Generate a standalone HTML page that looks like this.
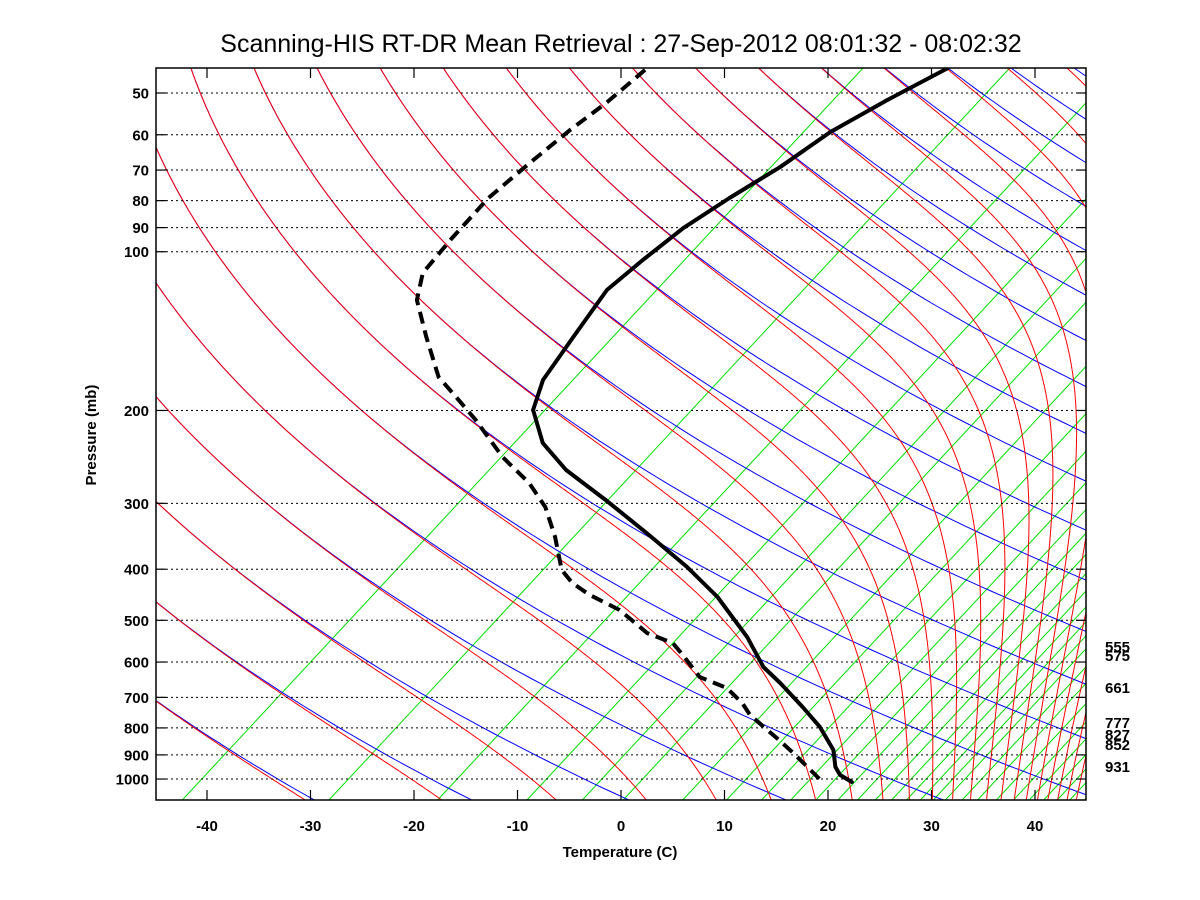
<!DOCTYPE html>
<html><head><meta charset="utf-8"><title>Skew-T</title>
<style>
html,body{margin:0;padding:0;background:#fff;}
svg{display:block;font-family:"Liberation Sans",Arial,sans-serif;}
.tk{font-size:15px;font-weight:bold;fill:#000;}
</style></head>
<body>
<svg id="chart" width="1200" height="900" viewBox="0 0 1200 900" xmlns="http://www.w3.org/2000/svg">
<defs><clipPath id="clip"><rect x="156" y="68" width="930" height="732"/></clipPath></defs>
<rect x="0" y="0" width="1200" height="900" fill="#fff"/>
<text x="621" y="52" text-anchor="middle" font-size="25">Scanning-HIS RT-DR Mean Retrieval : 27-Sep-2012 08:01:32 - 08:02:32</text>
<g id="guides" clip-path="url(#clip)"></g>
<g id="grid"></g>
<g id="profiles" clip-path="url(#clip)"></g>
<rect x="156" y="68" width="930" height="732" fill="none" stroke="#000" stroke-width="1.5"/>
<g id="axes"></g>
<text x="620" y="857" text-anchor="middle" class="tk">Temperature (C)</text>
<text transform="translate(96,435) rotate(-90)" text-anchor="middle" class="tk">Pressure (mb)</text>
<g id="rightlabels">
<text x="1105" y="652" class="tk">555</text>
<text x="1105" y="661" class="tk">575</text>
<text x="1105" y="693" class="tk">661</text>
<text x="1105" y="728" class="tk">777</text>
<text x="1105" y="740" class="tk">827</text>
<text x="1105" y="750" class="tk">852</text>
<text x="1105" y="772" class="tk">931</text>
</g>
</svg>
<script>
// ---- data ----
const pressureTicks = [50,60,70,80,90,100,200,300,400,500,600,700,800,900,1000];
const tempTicks = [-40,-30,-20,-10,0,10,20,30,40];
const tempP = [44.9,51.5,59.3,69.0,79.1,90.2,103.7,118.2,145.1,175.1,199.6,230.6,259.4,295.8,341.5,396.1,451.6,538.0,613,657.5,730,797,881,949,982,1013];
const tempT = [-64.6,-66.1,-67.3,-67.4,-68.1,-68.5,-68.1,-67.5,-64.4,-61.5,-58.4,-53.0,-47.1,-39.2,-30.8,-22.3,-15.3,-7.0,-1.4,2.4,7.8,12.2,16.6,19.1,20.6,22.7];
const dewP = [45.2,52.0,58.8,68.5,79.1,94.2,109.7,123.5,145.1,172.8,188.6,208.5,245.1,274.6,304.9,347.5,401.4,425,447.7,478,528.7,552,581.8,640.6,672,717,756,836,892,1004];
const dewT = [-93.6,-92.9,-92.7,-92.1,-91.4,-89.5,-87.6,-84.5,-78.6,-72.0,-67.6,-62.6,-55.0,-48.9,-44.1,-39.1,-34.0,-31.2,-27.9,-23.0,-17.2,-13.4,-10.8,-6.2,-2.1,1.4,3.8,9.5,13.1,19.4];
const mixingRatios = [0.1,0.4,1,2,3,4,6,8,10,12,14,16,18,20,22,24,26,28,30,33,36,40,44,48,52,56,60,65,70];

// ---- axes ----
const SKEW = 1.4;
function yP(p){ return 93 + 527.3*Math.log10(p/50); }
function xT(T,p){ return 621 + 10.35*T + SKEW*(779 - yP(p)); }
const NS = 'http://www.w3.org/2000/svg';
function mk(tag, attrs, parent){
  const e = document.createElementNS(NS, tag);
  for (const k in attrs) e.setAttribute(k, attrs[k]);
  parent.appendChild(e); return e;
}
function ptsToD(pts){ return pts.map((q,i)=>(i?'L':'M')+q[0].toFixed(1)+' '+q[1].toFixed(1)).join(''); }

const guides = document.getElementById('guides');
const PTOP = 40, PBOT = 1120;

// mixing ratio lines (green) - straight lines anchored at bottom
mixingRatios.forEach(w=>{
  const p=1096;
  const e=w*p/(622+w);
  const L=Math.log(e/6.112);
  const Td=243.5*L/(17.67-L);
  const xb=xT(Td,p)+12;
  const el = mk('line',{x1:xb,y1:800,x2:xb+0.93*732,y2:68,stroke:'#00e000','stroke-width':1},guides);
  
  
});

// dry (blue) and moist (red) adiabats
for(let th=225.2; th<=720; th+=14.8){
  const dry=[];
  for(let lp=Math.log(PTOP); lp<=Math.log(PBOT); lp+=0.02){
    const p=Math.exp(lp);
    const T=th*Math.pow(p/1000,0.2857)-273.15;
    dry.push([xT(T,p), yP(p)]);
  }
  const d = mk('path',{d:ptsToD(dry),fill:'none',stroke:'#0000ff','stroke-width':1},guides);
  
  

  const moist=[];
  let lp=Math.log(PTOP), T=th*Math.pow(PTOP/1000,0.2857);
  const dl=0.004;
  while(lp<=Math.log(PBOT)){
    const p=Math.exp(lp);
    moist.push([xT(T-273.15,p), yP(p)]);
    const Tc=T-273.15;
    let es=6.112*Math.exp(17.67*Tc/(Tc+243.5));
    es=Math.min(es,p*0.5);
    const rs=0.622*es/(p-es);
    const g=(287*T+2.5e6*rs)/(1004+2.5e6*2.5e6*rs*0.622/(287*T*T));
    T+=g*dl; lp+=dl;
  }
  const m = mk('path',{d:ptsToD(moist),fill:'none',stroke:'#ff0000','stroke-width':1},guides);
  
  
}

// grid + ticks
const grid=document.getElementById('grid'), axes=document.getElementById('axes');
pressureTicks.forEach(p=>{
  const y=yP(p);
  const g=mk('line',{x1:156,x2:1086,y1:y,y2:y,stroke:'#000','stroke-width':1,'stroke-dasharray':'2,3'},grid);
  
  
  const t1=mk('line',{x1:156,x2:166,y1:y,y2:y,stroke:'#000','stroke-width':1.2},axes);
  
  
  const t2=mk('line',{x1:1076,x2:1086,y1:y,y2:y,stroke:'#000','stroke-width':1.2},axes);
  
  
  const lb=mk('text',{x:149,y:y+5.5,'text-anchor':'end','class':'tk'},axes);
  lb.textContent=p;
  
  
});
tempTicks.forEach(T=>{
  const x=621+10.35*T;
  const b=mk('line',{x1:x,x2:x,y1:790,y2:800,stroke:'#000','stroke-width':1.2},axes);
  
  
  const t=mk('line',{x1:x,x2:x,y1:68,y2:78,stroke:'#000','stroke-width':1.2},axes);
  
  
  const lb=mk('text',{x:x,y:831,'text-anchor':'middle','class':'tk'},axes);
  lb.textContent=T;
  
  
});

// profiles
const prof=document.getElementById('profiles');
const tp=tempP.map((p,i)=>[xT(tempT[i],p), yP(p)]);
const tl=mk('path',{d:ptsToD(tp),fill:'none',stroke:'#000','stroke-width':4,'stroke-linejoin':'round','stroke-linecap':'round'},prof);


const dp=dewP.map((p,i)=>[xT(dewT[i],p), yP(p)]);
const dl2=mk('path',{d:ptsToD(dp),fill:'none',stroke:'#000','stroke-width':4,'stroke-dasharray':'12,7'},prof);


</script>
</body></html>
